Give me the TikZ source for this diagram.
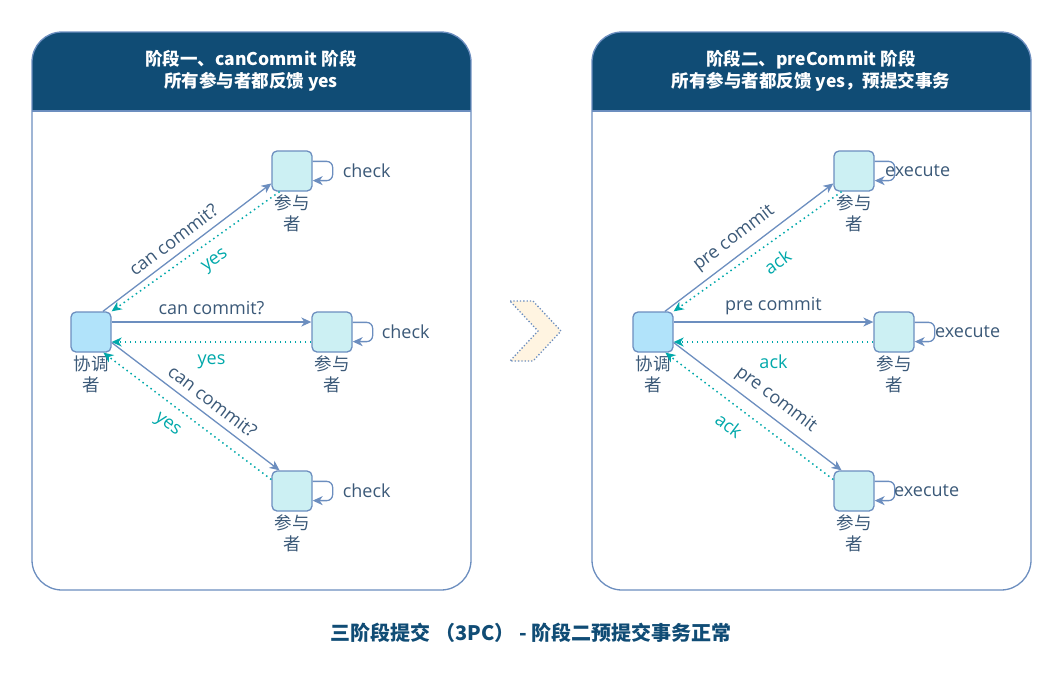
\documentclass[tikz,border=0pt]{standalone}
\usepackage{fontspec}
\setmainfont{Open Sans}
\newfontfamily\cjk{Noto Sans CJK SC}
\usetikzlibrary{arrows.meta}

\definecolor{hdrblue}{RGB}{16,76,117}
\definecolor{edgeblue}{RGB}{108,142,191}
\definecolor{ackteal}{RGB}{0,168,170}
\definecolor{txtgrey}{RGB}{59,89,120}
\definecolor{coordfill}{RGB}{177,227,250}
\definecolor{partfill}{RGB}{204,240,243}
\definecolor{chevfill}{RGB}{255,244,225}

\begin{document}
\begin{tikzpicture}[x=1pt,y=-1pt,font=\fontsize{18}{22}\selectfont]
\tikzset{
% boxes for coordinator and participants
box/.style={draw=edgeblue,line width=1.3pt,rounded corners=5,minimum size=40pt,inner sep=0pt},
coord node/.style={box,fill=coordfill},
part node/.style={box,fill=partfill},
name below/.style={label={[align=center,text=txtgrey,inner sep=3pt,font=\cjk\fontsize{17.5}{21}\selectfont]below:#1}},
% messages
ask/.style={draw=edgeblue,line width=1.3pt,-{Stealth[length=10pt,width=9pt,inset=3pt]}},
reply/.style={draw=ackteal,line width=1.5pt,dash pattern=on 1.5pt off 3.5pt,-{Stealth[length=10pt,width=9pt,inset=3pt]}},
selfloop/.style={draw=edgeblue,line width=1.3pt,rounded corners=6,-{Stealth[length=10pt,width=9pt,inset=3pt]}},
ask text/.style={text=txtgrey,sloped,inner sep=4pt,above=3pt},
reply text/.style={text=ackteal,sloped,inner sep=6pt,below=6pt},
step text/.style={text=txtgrey},
% panels
panel/.style={draw=edgeblue,line width=1.3pt,rounded corners=30},
title text/.style={align=center,text=white,font=\cjk\bfseries\fontsize{17.5}{22}\selectfont}
}
\useasboundingbox (0,0) rectangle (1062,681);

% left panel
\begin{scope}
\clip[rounded corners=30] (32,32) rectangle (471,590);
\fill[hdrblue] (32,32) rectangle (471,111);
\end{scope}
\draw[panel] (32,32) rectangle (471,590);
\draw[edgeblue,line width=1.3pt] (32,111) -- (471,111);
\node[title text] (titleA) at (251,71) {阶段一、canCommit 阶段\\所有参与者都反馈 yes};

% right panel
\begin{scope}
\clip[rounded corners=30] (592,32) rectangle (1031,590);
\fill[hdrblue] (592,32) rectangle (1031,111);
\end{scope}
\draw[panel] (592,32) rectangle (1031,590);
\draw[edgeblue,line width=1.3pt] (592,111) -- (1031,111);
\node[title text] (titleB) at (811,71) {阶段二、preCommit 阶段\\所有参与者都反馈 yes，预提交事务};

% phase one
\node[coord node,name below={协调\\者}] (coordA) at (91,332) {};
\node[part node,name below={参与\\者}] (partA1) at (292,171) {};
\node[part node,name below={参与\\者}] (partA2) at (332,332) {};
\node[part node,name below={参与\\者}] (partA3) at (292,491) {};

\draw[ask] (coordA.60) -- node[ask text,pos=0.47]{can commit?} (partA1.211);
\draw[reply] (partA1.239) -- node[reply text,pos=0.45]{yes} (coordA.north east);
\draw[ask] (coordA.east |- 0,322) -- node[ask text]{can commit?} (partA2.west |- 0,322);
\draw[reply] (partA2.west |- 0,342) -- node[reply text]{yes} (coordA.east |- 0,342);
\draw[ask] (coordA.-27) -- node[ask text,pos=0.55]{can commit?} (partA3.121);
\draw[reply] (partA3.151) -- node[reply text,pos=0.55]{yes} (coordA.-59);

\draw[selfloop] (partA1.25) -- ++(20,0) |- (partA1.-25);
\draw[selfloop] (partA2.25) -- ++(20,0) |- (partA2.-25);
\draw[selfloop] (partA3.25) -- ++(20,0) |- (partA3.-25);
\node[step text] (chkA1) at ([xshift=54]partA1.east) {check};
\node[step text] (chkA2) at ([xshift=53]partA2.east) {check};
\node[step text] (chkA3) at ([xshift=54]partA3.east) {check};

% arrow between the phases
\draw[fill=chevfill,draw=edgeblue,line width=1.3pt,dash pattern=on 1.3pt off 2pt]
(510,301) -- (533,301) -- (561,331) -- (533,361) -- (510,361) -- (538,331) -- cycle;

% phase two
\node[coord node,name below={协调\\者}] (coordB) at (653,332) {};
\node[part node,name below={参与\\者}] (partB1) at (854,171) {};
\node[part node,name below={参与\\者}] (partB2) at (894,332) {};
\node[part node,name below={参与\\者}] (partB3) at (854,491) {};

\draw[ask] (coordB.60) -- node[ask text,pos=0.47]{pre commit} (partB1.211);
\draw[reply] (partB1.239) -- node[reply text,pos=0.45]{ack} (coordB.north east);
\draw[ask] (coordB.east |- 0,322) -- node[ask text]{pre commit} (partB2.west |- 0,322);
\draw[reply] (partB2.west |- 0,342) -- node[reply text]{ack} (coordB.east |- 0,342);
\draw[ask] (coordB.-27) -- node[ask text,pos=0.55]{pre commit} (partB3.121);
\draw[reply] (partB3.151) -- node[reply text,pos=0.55]{ack} (coordB.-59);

\draw[selfloop] (partB1.25) -- ++(20,0) |- (partB1.-25);
\draw[selfloop] (partB2.25) -- ++(20,0) |- (partB2.-25);
\draw[selfloop] (partB3.25) -- ++(20,0) |- (partB3.-25);
\node[step text] (exeB1) at ([xshift=43]partB1.east) {execute};
\node[step text] (exeB2) at ([xshift=53]partB2.east) {execute};
\node[step text] (exeB3) at ([xshift=52]partB3.east) {execute};

% caption
\node[text=hdrblue,font=\cjk\bfseries\fontsize{20}{24}\selectfont] (caption) at (531,633) {三阶段提交 （3PC） - 阶段二预提交事务正常};
\end{tikzpicture}
\end{document}
